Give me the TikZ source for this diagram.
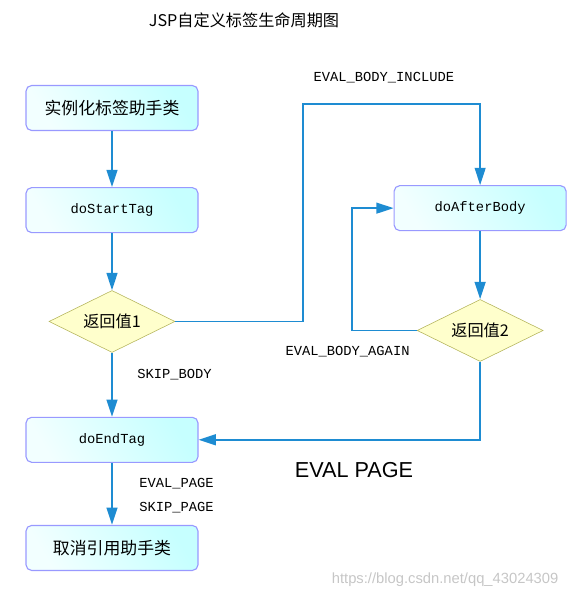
\documentclass[tikz,border=0pt]{standalone}
\usepackage{fontspec}
\setmonofont{Liberation Mono}
\newfontfamily\cjkfont{Noto Sans CJK SC}
\newfontfamily\pagefont{Liberation Sans}
\usepackage{xcolor}
\usepackage{tikz}
\usetikzlibrary{positioning,arrows.meta,shapes.geometric}
\definecolor{lifeblue}{RGB}{30,140,210}
\definecolor{lifeborder}{RGB}{153,153,255}
\definecolor{lifelight}{RGB}{242,255,255}
\definecolor{lifecyan}{RGB}{198,255,255}
\definecolor{lifeyellow}{RGB}{255,255,204}
\definecolor{lifeolive}{RGB}{180,180,90}
\tikzset{
    lifebox/.style={draw=lifeborder, thick, rounded corners=4pt, align=center, minimum width=4.3cm, minimum height=1.125cm, left color=lifelight, right color=lifecyan, shading angle=120},
    lifecjk/.style={font=\cjkfont\fontsize{12pt}{14pt}\selectfont},
    lifecode/.style={font=\ttfamily\fontsize{9.8pt}{12pt}\selectfont},
    lifedecision/.style={draw=lifeolive, diamond, aspect=2, inner sep=0pt, minimum width=3.15cm, minimum height=1.55cm, fill=lifeyellow, font=\cjkfont\fontsize{11.5pt}{13pt}\selectfont},
    lifearrow/.style={draw=lifeblue, line width=1.3pt, -{Triangle[length=4.3mm, width=2.7mm]}},
    lifelabel/.style={inner sep=0pt, align=left, font=\ttfamily\fontsize{9.8pt}{17pt}\selectfont},
    lifetitle/.style={font=\cjkfont\fontsize{11.5pt}{13pt}\selectfont},
    lifepage/.style={inner sep=0pt, font=\pagefont\fontsize{15.4pt}{18pt}\selectfont},
    lifemark/.style={inner sep=0pt, text=gray!45, font=\pagefont\fontsize{10.5pt}{12pt}\selectfont}
}
\begin{document}
\begin{tikzpicture}[node distance=1.4cm and 4.875cm]
    \useasboundingbox (0,0) rectangle (14.55,-14.975);
    \node[lifebox, lifecjk] (create) at (2.8,-2.7) {实例化标签助手类};
    \node[lifebox, lifecode, below=of create] (starttag) {doStartTag};
    \node[lifedecision, below=1.425cm of starttag] (return1) {返回值1};
    \node[lifebox, lifecode, below=1.6cm of return1] (endtag) {doEndTag};
    \node[lifebox, lifecjk, below=1.55cm of endtag] (release) {取消引用助手类};
    \node[lifebox, lifecode, right=of starttag, yshift=0.05cm] (afterbody) {doAfterBody};
    \node[lifedecision, below=1.7cm of afterbody] (return2) {返回值2};
    \node[lifetitle, above=1.3cm of create.north, xshift=3.3cm] (title) {JSP自定义标签生命周期图};

    \coordinate[right=3.2cm of return1.east] (include);
    \coordinate[above=2.025cm of afterbody.north] (includetop);
    \coordinate (includecorner) at (include |- includetop);
    \coordinate[left=1.625cm of return2.west] (again);

    \draw[lifearrow] (create) -- (starttag);
    \draw[lifearrow] (starttag) -- (return1);
    \draw[lifearrow] (return1) -- (endtag);
    \draw[lifearrow] (endtag) -- (release);
    \draw[lifearrow] (return1.east) -| (includecorner) -| (afterbody.north);
    \draw[lifearrow] (afterbody) -- (return2);
    \draw[lifearrow] (return2.west) -- (again) |- (afterbody.west);
    \draw[lifearrow] (return2.south) |- (endtag.east);

    \node[lifelabel, above right=0.525cm and 0.25cm of includecorner] (includelabel) {EVAL\_BODY\_INCLUDE};
    \node[lifelabel, below left=0.4cm and 0.175cm of return2.west] (againlabel) {EVAL\_BODY\_AGAIN};
    \node[lifelabel, below right=0.4cm and 0.625cm of return1.south] (skipbody) {SKIP\_BODY};
    \node[lifelabel, below right=0.375cm and 0.675cm of endtag.south] (pagelabels) {EVAL\_PAGE\\SKIP\_PAGE};
    \node[lifepage, below right=0.55cm and 2.4cm of endtag.east] (evalpage) {EVAL PAGE};
    \node[lifemark, right=3.325cm of release.south east, yshift=-0.225cm] (mark) {https://blog.csdn.net/qq\_43024309};
\end{tikzpicture}
\end{document}
